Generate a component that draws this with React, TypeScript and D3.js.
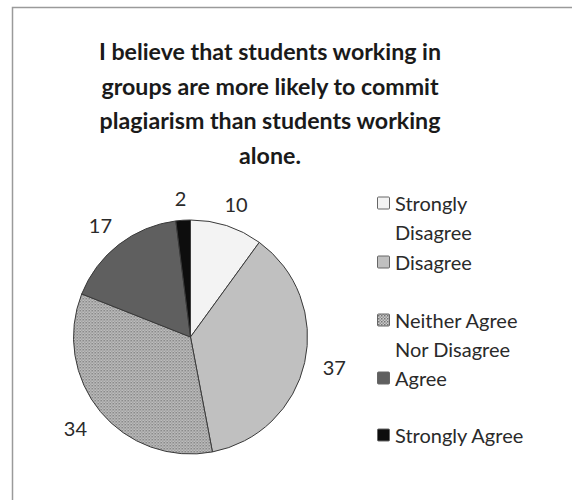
import React from "react";
import * as d3 from "d3";

const categories = ["Strongly Disagree", "Disagree", "Neither Agree Nor Disagree", "Agree", "Strongly Agree"];
const values = [10, 37, 34, 17, 2];
const legendLines = [["Strongly", "Disagree"], ["Disagree"], ["Neither Agree", "Nor Disagree"], ["Agree"], ["Strongly Agree"]];
const titleLines = [
  "I believe that students working in",
  "groups are more likely to commit",
  "plagiarism than students working",
  "alone.",
];

const fills = ["#f3f3f3", "#c0c0c0", "url(#checker)", "#5f5f5f", "#0d0d0d"];
const FONT = "Lato, 'Open Sans', sans-serif";

export default function App() {
  const W = 572, H = 500;
  const cx = 190.5, cy = 337, r = 117;
  const pie = d3.pie<number>().sort(null).value((d) => d);
  const arcs = pie(values);
  const arc = d3.arc<d3.PieArcDatum<number>>().innerRadius(0).outerRadius(r);

  const labelPos = (a: d3.PieArcDatum<number>, text: string) => {
    const mid = (a.startAngle + a.endAngle) / 2;
    const ux = Math.sin(mid), uy = -Math.cos(mid);
    const hw = text.length * 6 + 2, hh = 10;
    const edge = Math.min(hw / Math.max(Math.abs(ux), 1e-6), hh / Math.max(Math.abs(uy), 1e-6));
    const d = r + 11 + edge;
    return [ux * d + Math.sign(ux) * Math.sqrt(Math.abs(ux)) * 5, uy * d];
  };

  const legendY = [211, 270, 328, 386, 443];

  return (
    <div style={{ position: "absolute", left: 0, top: 0 }}>
      <svg width={W} height={H} style={{ display: "block", background: "#fff" }}>
        <defs>
          <pattern id="checker" width="3" height="3" patternUnits="userSpaceOnUse">
            <rect width="3" height="3" fill="#cbcbcb" />
            <rect width="1.5" height="1.5" fill="#747474" />
            <rect x="1.5" y="1.5" width="1.5" height="1.5" fill="#959595" />
          </pattern>
        </defs>
        <rect x={12.5} y={7.5} width={700} height={700} fill="#fff" stroke="#9a9a9a" strokeWidth={1.5} />
        <g fontFamily={FONT} fontWeight={700} fontSize={23.2} fill="#1a1a1a" textAnchor="middle">
          {titleLines.map((t, i) => (
            <text key={i} x={270} y={60 + i * 34.5}>{t}</text>
          ))}
        </g>
        <g transform={`translate(${cx},${cy})`}>
          {arcs.map((a, i) => (
            <path key={i} d={arc(a) || ""} fill={fills[i]} stroke="#3a3a3a" strokeWidth={1} />
          ))}
          {arcs.map((a, i) => {
            const t = String(values[i]);
            const [x, y] = labelPos(a, t);
            return (
              <text key={"l" + i} x={x} y={y + 7} textAnchor="middle" fontFamily={FONT} fontSize={20} fill="#2a2a2a">{t}</text>
            );
          })}
        </g>
        <g fontFamily={FONT} fontSize={20} fill="#2a2a2a">
          {categories.map((c, i) => (
            <g key={c}>
              <rect x={377.5} y={legendY[i] - 14} width={12} height={12} rx={1} fill={fills[i]} stroke="#666" strokeWidth={1} />
              {legendLines[i].map((ln, j) => (
                <text key={j} x={395} y={legendY[i] + j * 29}>{ln}</text>
              ))}
            </g>
          ))}
        </g>
      </svg>
    </div>
  );
}
